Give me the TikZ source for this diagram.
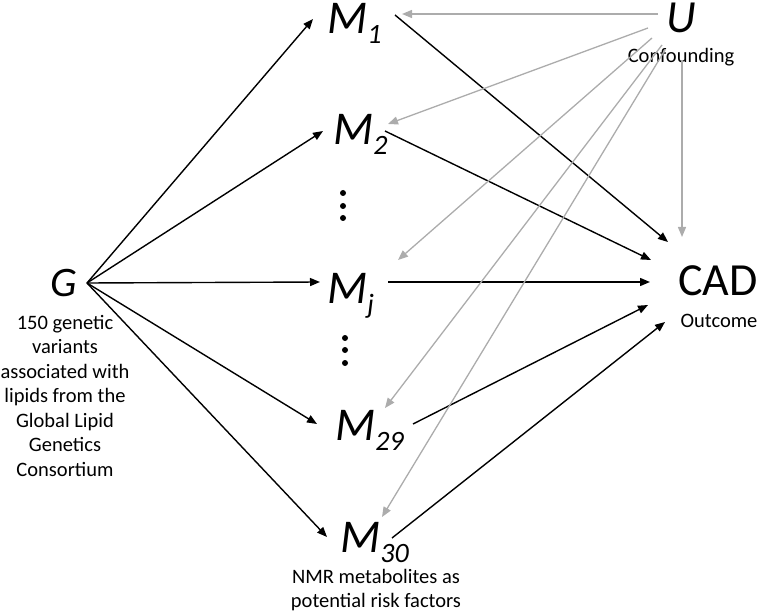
\documentclass[tikz,border=0pt]{standalone}
\usepackage{fontspec}
\setmainfont{Carlito}
\usetikzlibrary{arrows.meta}
\definecolor{cgray}{RGB}{172,172,172}
\newcommand{\msub}[1]{\raisebox{-10pt}{\fontsize{28}{28}\selectfont #1}}
\begin{document}
\begin{tikzpicture}[x=1pt,y=-1pt,
  blk/.style={black, line width=1.4pt, -{Triangle[length=10pt,width=8pt]}},
  gry/.style={cgray, line width=1.3pt, -{Triangle[length=10pt,width=8pt]}},
  var/.style={inner sep=0pt, anchor=base west, font=\fontsize{47}{47}\selectfont\itshape},
  lbl/.style={inner sep=0pt, align=center, font=\fontsize{20.5}{24.5}\selectfont},
  dotc/.style={fill=black}]
\useasboundingbox (0,0) rectangle (760,612);
% nodes
\node[var, font=\fontsize{42}{42}\selectfont\itshape] (G) at (50,297) {G};
\node[lbl, anchor=north] (Gl) at (65,315) {150 genetic\\variants\\associated with\\lipids from the\\Global Lipid\\Genetics\\Consortium};
\node[var] (M1) at (327,34) {M\msub{1}};
\node[var] (M2) at (333,145) {M\msub{2}};
\node[var] (Mj) at (327,303) {M\msub{j}};
\node[var] (M29) at (335,440) {M\msub{29}};
\node[var] (M30) at (340,552) {M\msub{30}};
\node[lbl, anchor=north] (M30l) at (376,569) {NMR metabolites as\\potential risk factors};
\node[var, font=\fontsize{46}{46}\selectfont\itshape] (U) at (666,33) {U};
\node[lbl, anchor=base] (Ul) at (681,63) {Confounding};
\node[var, font=\fontsize{46}{46}\selectfont] (CAD) at (678,295) {CAD};
\node[lbl, anchor=base] (CADl) at (719,327) {Outcome};
% vertical dots
\foreach \yy in {193,206,218} \fill[dotc] (343,\yy) circle (3pt);
\foreach \yy in {338,350,363} \fill[dotc] (345,\yy) circle (3pt);
% G -> M
\draw[blk] ([shift={(37,-14)}]G.base west) -- ([shift={(-14,-15)}]M1.base west);
\draw[blk] ([shift={(37,-14)}]G.base west) -- ([shift={(-10,-14)}]M2.base west);
\draw[blk] ([shift={(37,-14)}]G.base west) -- ([shift={(-7,-21)}]Mj.base west);
\draw[blk] ([shift={(37,-14)}]G.base west) -- ([shift={(-18,-16)}]M29.base west);
\draw[blk] ([shift={(37,-14)}]G.base west) -- ([shift={(-13,-15)}]M30.base west);
% M -> CAD
\draw[blk] ([shift={(68,-19)}]M1.base west) -- ([shift={(-10,-53)}]CAD.base west);
\draw[blk] ([shift={(52,-14)}]M2.base west) -- ([shift={(-27,-35)}]CAD.base west);
\draw[blk] ([shift={(61,-21)}]Mj.base west) -- ([shift={(-28,-13)}]CAD.base west);
\draw[blk] ([shift={(78,-16)}]M29.base west) -- ([shift={(-30,10)}]CAD.base west);
\draw[blk] ([shift={(52,-14)}]M30.base west) -- ([shift={(-13,27)}]CAD.base west);
% U -> M, CAD
\draw[gry] ([shift={(-8,-19)}]U.base west) -- ([shift={(75,-20)}]M1.base west);
\draw[gry] ([shift={(-18,-5)}]U.base west) -- ([shift={(55,-21)}]M2.base west);
\draw[gry] ([shift={(-14,5)}]U.base west) -- ([shift={(71,-43)}]Mj.base west);
\draw[gry] ([shift={(-4,12)}]U.base west) -- ([shift={(50,-32)}]M29.base west);
\draw[gry] ([shift={(-1,17)}]U.base west) -- ([shift={(42,-35)}]M30.base west);
\draw[gry] ([shift={(16,27)}]U.base west) -- ([shift={(4,-58)}]CAD.base west);
\end{tikzpicture}
\end{document}
